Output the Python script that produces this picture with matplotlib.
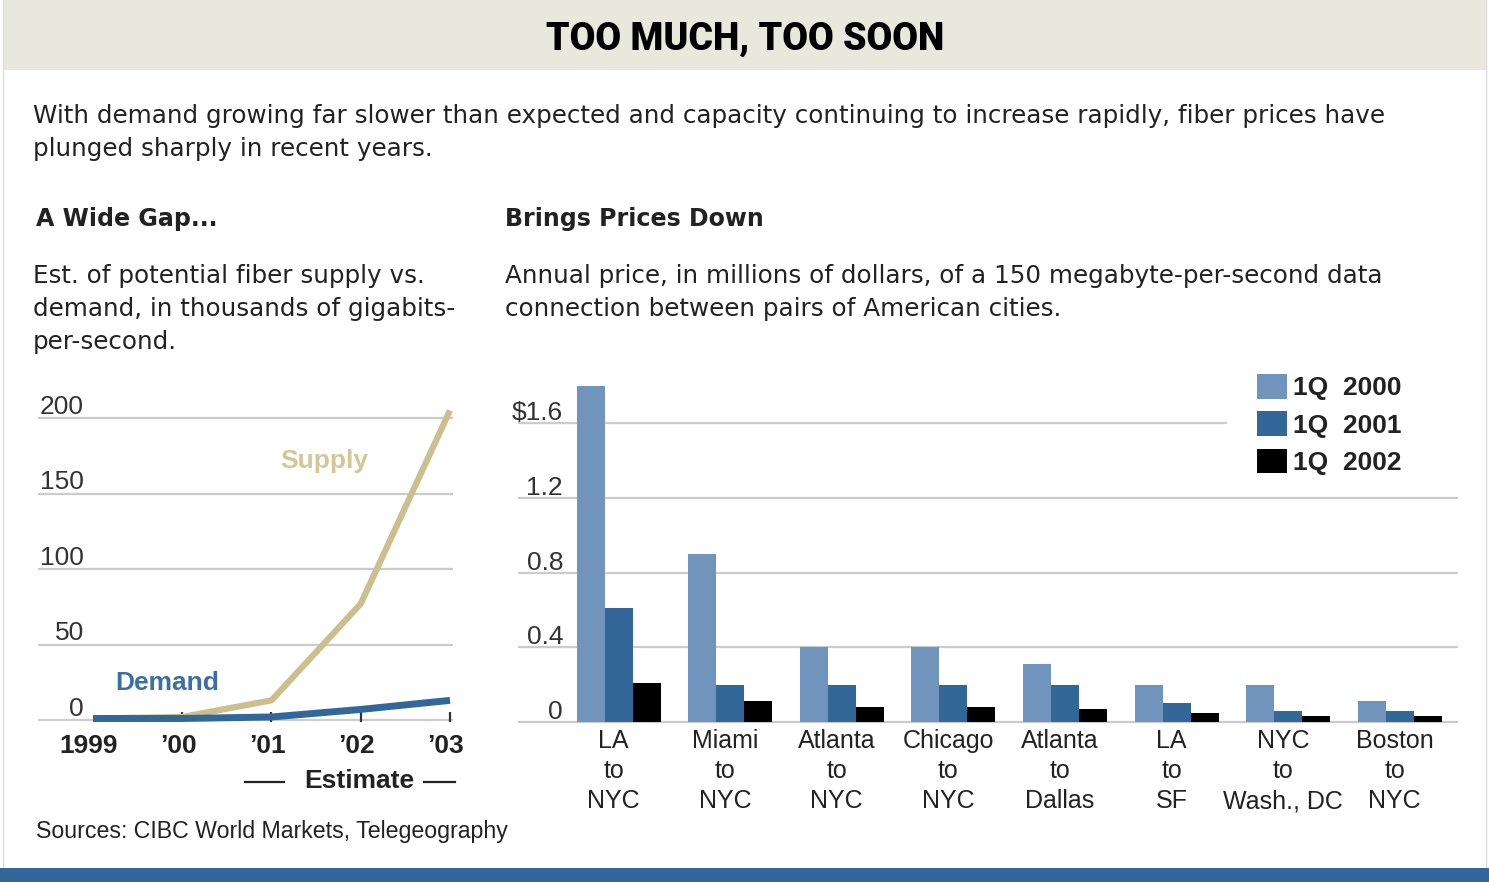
import matplotlib
matplotlib.use("Agg")
import matplotlib.pyplot as plt
from matplotlib.patches import Rectangle
from matplotlib.lines import Line2D

# ---------------- data ----------------
years = [1999, 2000, 2001, 2002, 2003]
year_labels = ["1999", "\u201900", "\u201901", "\u201902", "\u201903"]
supply = [1, 2, 13, 77, 205]
demand = [1, 1, 2, 7, 13]
line_yticks = [0, 50, 100, 150, 200]

routes = ["LA\nto\nNYC", "Miami\nto\nNYC", "Atlanta\nto\nNYC", "Chicago\nto\nNYC",
          "Atlanta\nto\nDallas", "LA\nto\nSF", "NYC\nto\nWash., DC", "Boston\nto\nNYC"]
price_2000 = [1.80, 0.90, 0.40, 0.40, 0.31, 0.20, 0.20, 0.11]
price_2001 = [0.61, 0.20, 0.20, 0.20, 0.20, 0.10, 0.06, 0.06]
price_2002 = [0.21, 0.11, 0.08, 0.08, 0.07, 0.05, 0.03, 0.03]
series_labels = ["1Q  2000", "1Q  2001", "1Q  2002"]
bar_yticks = [0, 0.4, 0.8, 1.2, 1.6]
bar_ytick_labels = ["0", "0.4", "0.8", "1.2", "$1.6"]

# ---------------- style ----------------
plt.rcParams['font.family'] = ['Liberation Sans', 'DejaVu Sans']
BODY = ['DejaVu Sans']
W, H = 1489, 882
PT = 0.72  # points per pixel at dpi 100
TXT = '#222222'
GRID = '#cccccc'
C2000, C2001, C2002 = '#7194bc', '#336699', '#000000'
SUPPLY_C = '#cbbf8e'
DEMAND_C = '#336699'

fig = plt.figure(figsize=(W / 100, H / 100), dpi=100)
fig.patch.set_facecolor('white')

def fx(x):
    return x / W

def fy(y):
    return 1 - y / H

def rect(x0, y0, x1, y1):
    return [fx(x0), fy(y1), (x1 - x0) / W, (y1 - y0) / H]

# frame, header band, bottom band
fig.add_artist(Rectangle((fx(3), fy(881)), (1486 - 3) / W, 881 / H, transform=fig.transFigure,
                         facecolor='white', edgecolor='#dddddd', lw=1.0, zorder=0))
fig.add_artist(Rectangle((fx(4), fy(70)), (1486 - 4) / W, 70 / H, transform=fig.transFigure,
                         facecolor='#e8e8dc', edgecolor='none', zorder=1))
fig.add_artist(Rectangle((fx(0), fy(882)), 1, 14 / H, transform=fig.transFigure,
                         facecolor='#336699', edgecolor='none', zorder=1))

# titles and texts
fig.text(fx(745), fy(50), "TOO MUCH, TOO SOON", ha='center', va='baseline',
         fontsize=27, fontweight='black', color='black', family=['Roboto', 'DejaVu Sans'])
fig.text(fx(33), fy(123), "With demand growing far slower than expected and capacity continuing to increase rapidly, fiber prices have",
         ha='left', va='baseline', fontsize=17.7, color=TXT, family=BODY)
fig.text(fx(33), fy(156), "plunged sharply in recent years.", ha='left', va='baseline', fontsize=17.7,
         color=TXT, family=BODY)

fig.text(fx(36), fy(226), "A Wide Gap...", ha='left', va='baseline', fontsize=17.1, fontweight='bold',
         color=TXT, family=BODY)
for i, line in enumerate(["Est. of potential fiber supply vs.",
                          "demand, in thousands of gigabits-",
                          "per-second."]):
    fig.text(fx(33), fy(283 + 33 * i), line, ha='left', va='baseline', fontsize=17.7, color=TXT, family=BODY)

fig.text(fx(505), fy(226), "Brings Prices Down", ha='left', va='baseline', fontsize=17.1, fontweight='bold',
         color=TXT, family=BODY)
for i, line in enumerate(["Annual price, in millions of dollars, of a 150 megabyte-per-second data",
                          "connection between pairs of American cities."]):
    fig.text(fx(505), fy(283 + 33 * i), line, ha='left', va='baseline', fontsize=17.7, color=TXT, family=BODY)

fig.text(fx(36), fy(838), "Sources: CIBC World Markets, Telegeography", ha='left', va='baseline',
         fontsize=16.7, color=TXT)

# ---------------- left line chart ----------------
axL = fig.add_axes(rect(38, 400, 453, 722))
ky = (720 - 418) / 200.0
axL.set_ylim((720 - 722) / ky, (720 - 400) / ky)
kx = (450 - 93) / 4.0
axL.set_xlim(1999 - (93 - 38) / kx, 2003 + (453 - 450) / kx)
for s in axL.spines.values():
    s.set_visible(False)
axL.set_yticks([])
axL.set_xticks(years[1:])
axL.set_xticklabels([])
axL.tick_params(axis='x', direction='in', length=7, width=1.6, color='#333333')
for v in line_yticks:
    axL.axhline(v, color=GRID, lw=1.6, zorder=0)
    axL.annotate(str(v), xy=((84 - 38) / (453 - 38), v), xycoords=('axes fraction', 'data'),
                 xytext=(0, 4 * PT), textcoords='offset points', ha='right', va='baseline',
                 fontsize=19, color='#333333')
axL.plot(years, supply, color=SUPPLY_C, lw=4.5, solid_capstyle='butt', zorder=3)
axL.plot(years, demand, color=DEMAND_C, lw=5, solid_capstyle='butt', zorder=4)
for yr, lbl in zip(years, year_labels):
    axL.annotate(lbl, xy=(yr, 0), xycoords='data', xytext=(-4 * PT, -33 * PT),
                 textcoords='offset points', ha='center', va='baseline',
                 fontsize=19, fontweight='bold', color=TXT, annotation_clip=False)
axL.text(2001.1, 167, "Supply", ha='left', va='baseline', fontsize=19, fontweight='bold', color='#d4c797')
axL.text(1999.25, 20, "Demand", ha='left', va='baseline', fontsize=19, fontweight='bold', color='#3a6fa6')

# Estimate bracket
fig.text(fx(359), fy(788), "Estimate", ha='center', va='baseline', fontsize=19, fontweight='bold', color=TXT)
for x0, x1 in [(245, 284), (424, 455)]:
    fig.add_artist(Line2D([fx(x0), fx(x1)], [fy(782), fy(782)], transform=fig.transFigure,
                          color=TXT, lw=1.6))

# ---------------- right bar chart ----------------
axR = fig.add_axes(rect(518, 380, 1458, 724))
kb = (722 - 423) / 1.6
axR.set_ylim((722 - 724) / kb, (722 - 380) / kb)
gx = 111.6
axR.set_xlim(-(618.5 - 518) / gx, (1458 - 618.5) / gx)
for s in axR.spines.values():
    s.set_visible(False)
axR.set_xticks([])
axR.set_yticks([])
legend_cut = (1226 - 518) / (1458 - 518)
for v, lbl in zip(bar_yticks, bar_ytick_labels):
    axR.axhline(v, xmin=0, xmax=(legend_cut if v == bar_yticks[-1] else 1), color=GRID, lw=1.6, zorder=0)
    axR.annotate(lbl, xy=((563 - 518) / (1458 - 518), v), xycoords=('axes fraction', 'data'),
                 xytext=(0, 3 * PT), textcoords='offset points', ha='right', va='baseline',
                 fontsize=19, color='#333333')
xs = list(range(len(routes)))
bw = 28 / gx
b0 = axR.bar([x - bw for x in xs], price_2000, width=bw, color=C2000, label=series_labels[0], zorder=2)
b1 = axR.bar(xs, price_2001, width=bw, color=C2001, label=series_labels[1], zorder=2)
b2 = axR.bar([x + bw for x in xs], price_2002, width=bw, color=C2002, label=series_labels[2], zorder=2)
for x, r in zip(xs, routes):
    for j, part in enumerate(r.split("\n")):
        axR.annotate(part, xy=(x, 0), xycoords='data', xytext=(-5 * PT, -(26 + 30 * j) * PT),
                     textcoords='offset points', ha='center', va='baseline',
                     fontsize=18, color=TXT, annotation_clip=False)

fs_leg = 19
em = fs_leg / PT
leg = axR.legend(handles=[b0, b1, b2], loc='upper left',
                 bbox_to_anchor=(fx(1257), fy(374)), bbox_transform=fig.transFigure,
                 frameon=False, borderpad=0, borderaxespad=0,
                 handlelength=30 / em, handleheight=28 / em, handletextpad=6 / em,
                 labelspacing=11 / em, prop={'size': fs_leg, 'weight': 'bold'})
for t in leg.get_texts():
    t.set_color(TXT)

fig.savefig("out.png", dpi=100)
